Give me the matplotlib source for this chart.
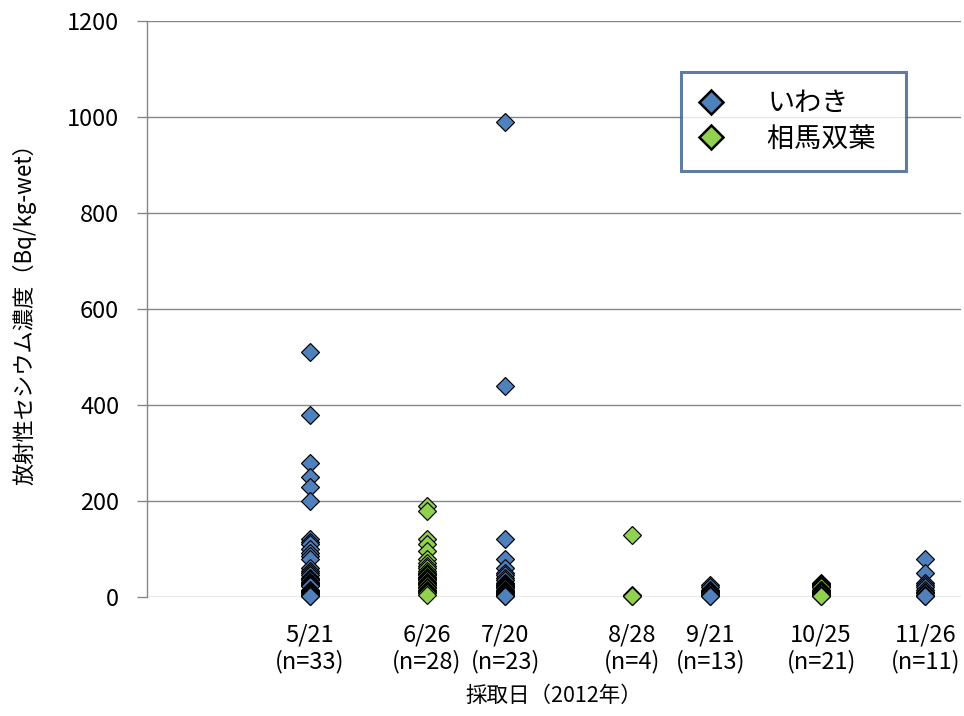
import numpy as np
import matplotlib
matplotlib.use("Agg")
import matplotlib.pyplot as plt
from matplotlib.lines import Line2D

plt.rcParams['font.family'] = ['Noto Sans CJK JP', 'DejaVu Sans']

# sampling dates (2012) and counts shown under each date
dates = ["2012-05-21", "2012-06-26", "2012-07-20", "2012-08-28",
         "2012-09-21", "2012-10-25", "2012-11-26"]
date_labels = ["5/21", "6/26", "7/20", "8/28", "9/21", "10/25", "11/26"]
counts = [33, 28, 23, 4, 13, 21, 11]

# いわき (blue)
iwaki_0521 = [510, 380, 280, 250, 230, 200, 120, 115, 110, 100, 92, 85, 80,
              60, 55, 50, 45, 40, 38, 35, 32, 30, 28, 25, 22,
              15, 12, 10, 8, 6, 5, 3, 2]
iwaki_0720 = [990, 440, 120, 80, 60, 50, 45, 40, 35, 30, 28, 25, 22, 20,
              18, 15, 12, 10, 8, 6, 5, 3, 2]
iwaki_0921 = [25, 20, 15, 12, 10, 10, 8, 8, 5, 5, 5, 3, 3]
iwaki_1126 = [80, 50, 30, 25, 20, 15, 10, 8, 5, 3, 2]

# 相馬双葉 (green)
souma_0626 = [190, 180, 120, 110, 95, 80, 70, 65, 60, 55, 50, 48, 45, 42,
              40, 38, 35, 32, 30, 28, 25, 20, 18, 15, 12, 10, 8, 5]
souma_0828 = [130, 5, 3, 2]
souma_1025 = [30, 28, 25, 22, 20, 20, 15, 15, 12, 10, 10, 10, 8, 8, 8,
              5, 5, 5, 5, 3, 3]

iwaki = {"2012-05-21": iwaki_0521, "2012-07-20": iwaki_0720,
         "2012-09-21": iwaki_0921, "2012-11-26": iwaki_1126}
souma = {"2012-06-26": souma_0626, "2012-08-28": souma_0828,
         "2012-10-25": souma_1025}

BLUE = "#4F81BD"
GREEN = "#92D050"
GRID = "#868686"

base = np.datetime64("2012-05-21")


def day(d):
    return int((np.datetime64(d) - base) / np.timedelta64(1, "D"))


fig = plt.figure(figsize=(9.64, 7.16), dpi=100)
ax = fig.add_axes([0.1525, 0.1662, 0.8445, 0.8045])

for series, color in ((iwaki, BLUE), (souma, GREEN)):
    for d, vals in series.items():
        ax.plot([day(d)] * len(vals), vals, linestyle="none", marker="D",
                markersize=9, markerfacecolor=color, markeredgecolor="black",
                markeredgewidth=0.85, clip_on=False, zorder=3)

ax.set_xlim(-50, 200)
ax.set_ylim(0, 1200)
ax.set_yticks(range(0, 1201, 200))
ax.yaxis.grid(True, color=GRID, linewidth=1.0)
ax.set_axisbelow(True)

ax.set_xticks([day(d) for d in dates])
ax.set_xticklabels([f"{l}\n(n={n})" for l, n in zip(date_labels, counts)],
                   linespacing=1.2)
ax.tick_params(axis="x", length=0, pad=19, labelsize=17)
ax.tick_params(axis="y", length=7, width=1.0, color=GRID, labelsize=17, pad=13)

for s in ("top", "right", "bottom"):
    ax.spines[s].set_visible(False)
ax.spines["left"].set_color(GRID)
ax.spines["left"].set_linewidth(1.0)

ax.set_ylabel("放射性セシウム濃度（Bq/kg-wet）", fontsize=16, labelpad=22)
ax.set_xlabel("採取日（2012年）", fontsize=15.5, labelpad=8)

handles = [
    Line2D([], [], linestyle="none", marker="D", markersize=12,
           markerfacecolor=BLUE, markeredgecolor="black", markeredgewidth=1.8),
    Line2D([], [], linestyle="none", marker="D", markersize=12,
           markerfacecolor=GREEN, markeredgecolor="black", markeredgewidth=1.8),
]
leg = ax.legend(handles, ["いわき", "相馬双葉  "], loc="upper left",
                bbox_to_anchor=(0.656, 0.911), fontsize=19.5, frameon=True,
                fancybox=False, edgecolor="#385D8A", borderpad=0.67,
                handletextpad=1.63, labelspacing=0.3, borderaxespad=0,
                handlelength=0.89)
leg.get_frame().set_linewidth(2.2)

fig.savefig("out.png", dpi=100)
